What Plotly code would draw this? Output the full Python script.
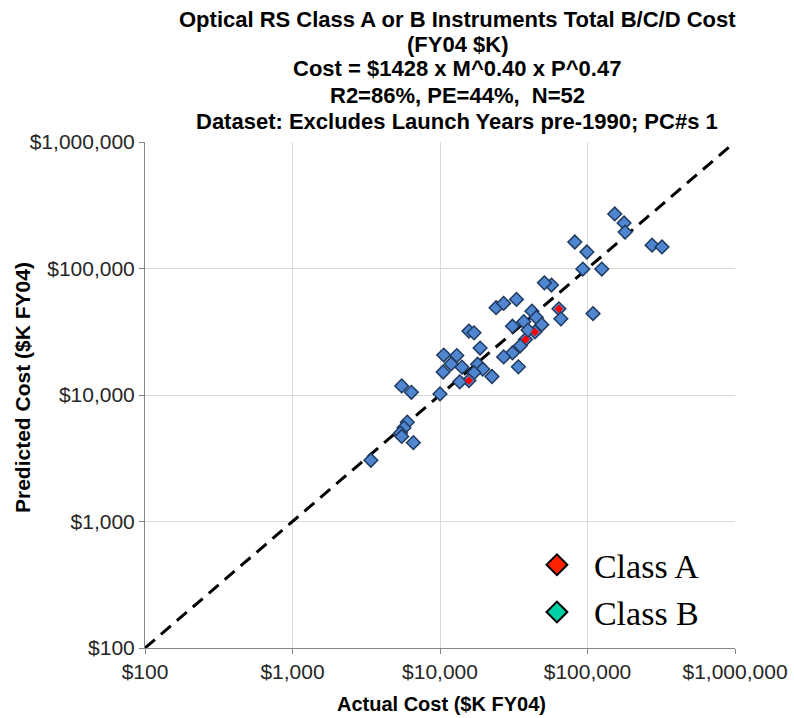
import plotly.graph_objects as go

# Actual vs. predicted total B/C/D cost ($K FY04), all instruments
actual_cost = [
    153000, 177000, 180000, 82000, 99000, 274000, 320000, 93000, 125000, 57000,
    51000, 109000, 64000, 66000, 24000, 27000, 33000, 42000, 45000, 49000,
    31000, 37000, 44000, 38000, 35000, 31000, 27000, 34000, 15700, 17000,
    18700, 10600, 13000, 11900, 14100, 10500, 18000, 19500, 17000, 22500,
    15700, 13600, 5500, 6400, 10000, 6000, 5700, 5400, 5500, 6600,
    3400, 39500,
]
predicted_cost = [
    270000, 229000, 194000, 162000, 135000, 153000, 148000, 99000, 99000, 74000,
    77000, 44000, 48000, 40000, 49000, 53000, 57000, 46000, 41000, 36000,
    35000, 38000, 31500, 27500, 24500, 21500, 20000, 16700, 32000, 31000,
    23500, 20700, 20500, 17600, 16600, 15200, 17500, 16000, 15000, 14000,
    13000, 12700, 11800, 10500, 10200, 6100, 5500, 5000, 4700, 4200,
    3050, 32600,
]

# Class A subset
class_a_actual = [64000, 44000, 38000, 15700]
class_a_predicted = [48000, 31500, 27500, 13000]

# Class B subset (none in this dataset)
class_b_actual = []
class_b_predicted = []

# 1:1 reference line end points
unity_line = [100, 1000000]

tick_values = [100, 1000, 10000, 100000, 1000000]
tick_labels = ["$100", "$1,000", "$10,000", "$100,000", "$1,000,000"]

title_lines = [
    "Optical RS Class A or B Instruments Total B/C/D Cost",
    "(FY04 $K)",
    "Cost = $1428 x M^0.40 x P^0.47",
    "R2=86%, PE=44%,  N=52",
    "Dataset: Excludes Launch Years pre-1990; PC#s 1",
]

SANS = "Liberation Sans, Arial, sans-serif"
SERIF = "Liberation Serif, Times New Roman, serif"

fig = go.Figure()

fig.add_trace(go.Scatter(
    x=unity_line, y=unity_line, mode="lines",
    line=dict(color="black", width=3, dash="13px,8px"),
    showlegend=False, hoverinfo="skip",
))

fig.add_trace(go.Scatter(
    x=actual_cost, y=predicted_cost, mode="markers", name="All",
    marker=dict(symbol="diamond", size=10.5, color="#4F86CF",
                line=dict(color="#1F3A60", width=1.5)),
    showlegend=False,
))

fig.add_trace(go.Scatter(
    x=class_a_actual, y=class_a_predicted, mode="markers", name="Class A",
    marker=dict(symbol="diamond", size=6.5, color="#FF0000", line=dict(width=0)),
    legendgroup="A", showlegend=False,
))
fig.add_trace(go.Scatter(
    x=class_b_actual, y=class_b_predicted, mode="markers", name="Class B",
    marker=dict(symbol="diamond", size=6.5, color="#00CFA6", line=dict(width=0)),
    legendgroup="B", showlegend=False,
))

# Legend swatches
fig.add_trace(go.Scatter(
    x=[None], y=[None], mode="markers", name="Class A", legendgroup="A",
    marker=dict(symbol="diamond", size=16, color="#FF2200",
                line=dict(color="black", width=2)),
))
fig.add_trace(go.Scatter(
    x=[None], y=[None], mode="markers", name="Class B", legendgroup="B",
    marker=dict(symbol="diamond", size=16, color="#00CFA6",
                line=dict(color="black", width=2)),
))

axis_common = dict(
    type="log",
    range=[2, 6],
    tickvals=tick_values,
    ticktext=tick_labels,
    tickfont=dict(family=SANS, size=21, color="#262626"),
    showgrid=True, gridcolor="#D9D9D9", gridwidth=1,
    showline=True, linecolor="#868686", linewidth=1,
    ticks="outside", ticklen=5, tickcolor="#868686",
    zeroline=False, automargin=False,
)

plot_left, plot_w = 145, 590
plot_top, plot_h = 142, 506
plot_bottom = plot_top + plot_h

def px_to_paper_x(px):
    return (px - plot_left) / plot_w

def px_to_paper_y(py):
    return (plot_bottom - py) / plot_h

# Multi-line title, one annotation per line for tight line spacing
title_y_px = [19, 44, 69, 95, 121]
annotations = [
    dict(text="<b>%s</b>" % line, xref="paper", yref="paper",
         x=px_to_paper_x(457), y=px_to_paper_y(ypx),
         xanchor="center", yanchor="middle", showarrow=False,
         font=dict(family=SANS, size=22, color="black"))
    for line, ypx in zip(title_lines, title_y_px)
]

# Axis titles
annotations.append(dict(
    text="<b>Actual Cost ($K FY04)</b>", xref="paper", yref="paper",
    x=px_to_paper_x(442), y=px_to_paper_y(704),
    xanchor="center", yanchor="middle", showarrow=False,
    font=dict(family=SANS, size=20, color="black"),
))
annotations.append(dict(
    text="<b>Predicted Cost ($K FY04)</b>", xref="paper", yref="paper",
    x=px_to_paper_x(22), y=px_to_paper_y(388),
    xanchor="center", yanchor="middle", textangle=-90, showarrow=False,
    font=dict(family=SANS, size=21, color="black"),
))

fig.update_layout(
    width=794, height=718,
    margin=dict(l=145, r=59, t=142, b=70, autoexpand=False),
    paper_bgcolor="white", plot_bgcolor="white",
    annotations=annotations,
    xaxis=dict(**axis_common),
    yaxis=dict(**axis_common),
    legend=dict(
        x=0.6355, y=0.221, xanchor="left", yanchor="top",
        bgcolor="rgba(0,0,0,0)",
        font=dict(family=SERIF, size=34, color="black"),
        itemwidth=64,
        tracegroupgap=0,
    ),
)

fig.write_html("out.html")
